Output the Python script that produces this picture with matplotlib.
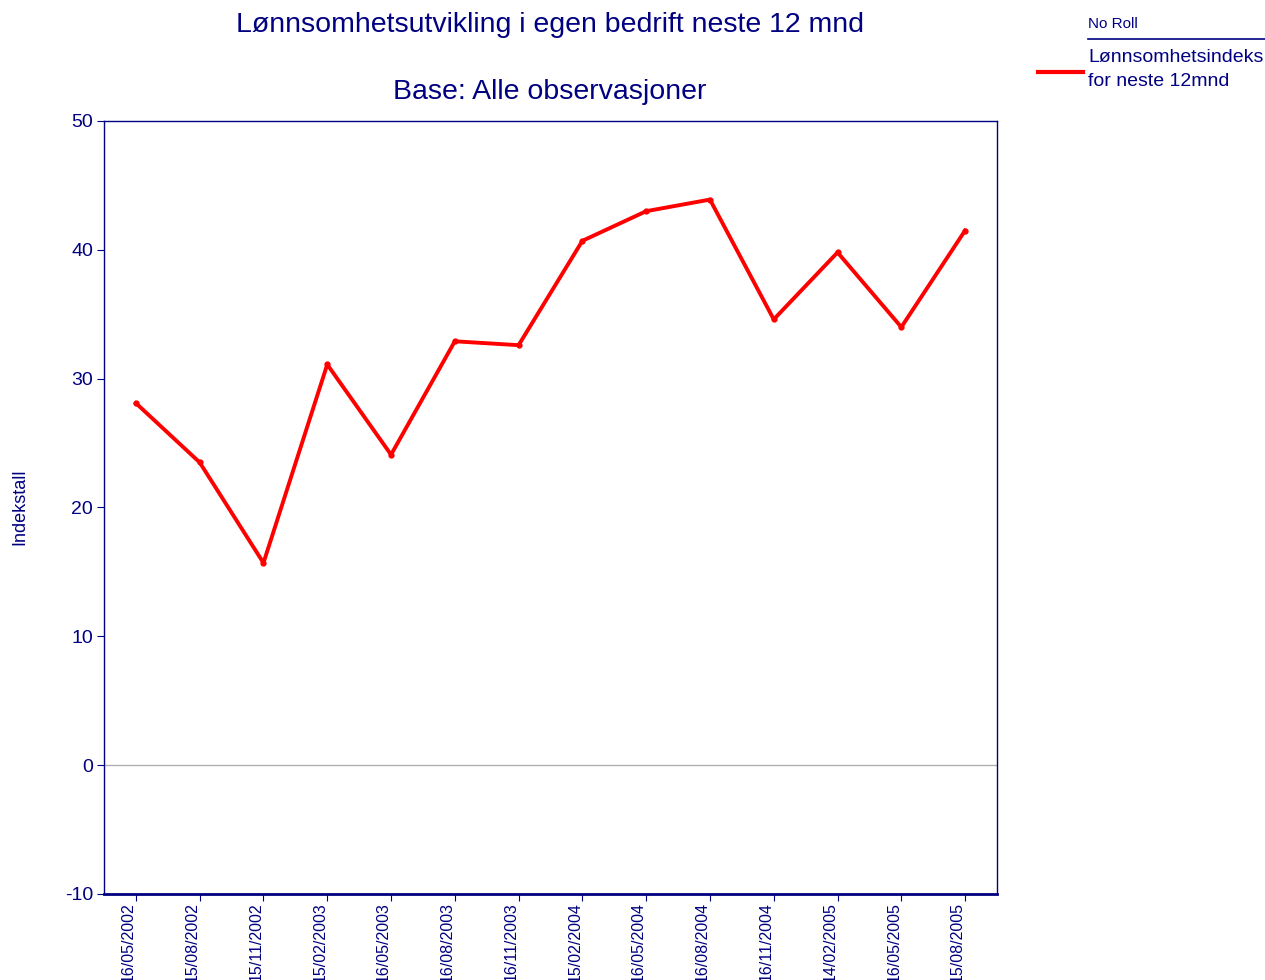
import matplotlib
matplotlib.use("Agg")
import matplotlib.pyplot as plt
from matplotlib.lines import Line2D

plt.rcParams['font.family'] = ['Liberation Sans', 'DejaVu Sans']
plt.rcParams['axes.unicode_minus'] = False

# Data
datoer = ["16/05/2002", "15/08/2002", "15/11/2002", "15/02/2003", "16/05/2003",
          "16/08/2003", "16/11/2003", "15/02/2004", "16/05/2004", "16/08/2004",
          "16/11/2004", "14/02/2005", "16/05/2005", "15/08/2005"]
indeks = [28.1, 23.5, 15.7, 31.1, 24.1, 32.9, 32.6, 40.7, 43.0, 43.9,
          34.6, 39.8, 34.0, 41.5]
y_ticks = [-10, 0, 10, 20, 30, 40, 50]

navy = '#000080'

fig = plt.figure(figsize=(12.65, 9.8), dpi=100)
ax = fig.add_axes([104/1265, 1-894/980, (997-104)/1265, (894-121)/980])

x = list(range(len(datoer)))
ax.axhline(0, color='#b0b0b0', lw=1, zorder=1)
ax.plot(x, indeks, color='#ff0000', lw=2.8, marker='o', markersize=3.5, zorder=3)

ax.set_xlim(-0.5, len(datoer) - 0.5)
ax.set_ylim(-10, 50)
ax.set_yticks(y_ticks)
ax.set_xticks(x)
ax.set_xticklabels(datoer, rotation=90, ha='right', va='top')

for s in ax.spines.values():
    s.set_color(navy)
    s.set_linewidth(1.0)
ax.spines['bottom'].set_linewidth(2.0)

ax.tick_params(axis='both', colors=navy, labelcolor=navy, direction='out')
ax.tick_params(axis='x', length=5, labelsize=11.5, pad=1)
ax.tick_params(axis='y', length=5, labelsize=14, pad=3)

fig.text(20/1265, 1-507/980, "Indekstall", rotation=90, ha='center', va='center',
         color=navy, fontsize=13)

fig.text(550/1265, 1-25/980, "Lønnsomhetsutvikling i egen bedrift neste 12 mnd",
         ha='center', va='center', color=navy, fontsize=20.5)
fig.text(550/1265, 1-92/980, "Base: Alle observasjoner",
         ha='center', va='center', color=navy, fontsize=20.5)

# Legend panel
fig.text(1088/1265, 1-24/980, "No Roll", ha='left', va='center', color=navy, fontsize=11)
fig.add_artist(Line2D([1088/1265, 1265/1265], [1-39/980, 1-39/980],
                      color=navy, lw=1.2, transform=fig.transFigure))
fig.text(1088/1265, 1-57/980, "Lønnsomhetsindeks", ha='left', va='center',
         color=navy, fontsize=14)
fig.text(1088/1265, 1-82/980, "for neste 12mnd", ha='left', va='center',
         color=navy, fontsize=14)
fig.add_artist(Line2D([1038/1265, 1083/1265], [1-72/980, 1-72/980],
                      color='#ff0000', lw=3, transform=fig.transFigure))

fig.savefig("out.png", dpi=100)
